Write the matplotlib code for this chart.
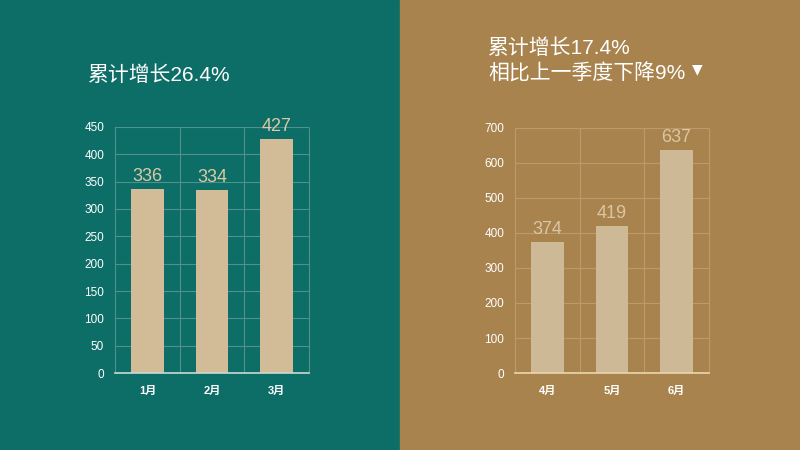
import matplotlib.pyplot as plt
import matplotlib.patches as patches

plt.rcParams['font.family'] = ['Liberation Sans', 'Noto Sans CJK SC', 'DejaVu Sans']

months_q1 = ["1月", "2月", "3月"]
values_q1 = [336, 334, 427]
months_q2 = ["4月", "5月", "6月"]
values_q2 = [374, 419, 637]
ticks_q1 = [0, 50, 100, 150, 200, 250, 300, 350, 400, 450]
ticks_q2 = [0, 100, 200, 300, 400, 500, 600, 700]

teal = "#0d6d67"
brown = "#a8834e"

fig = plt.figure(figsize=(8, 4.5), dpi=100)
fig.patches.append(patches.Rectangle((0, 0), 0.5, 1, transform=fig.transFigure,
                                     color=teal, zorder=-10))
fig.patches.append(patches.Rectangle((0.5, 0), 0.5, 1, transform=fig.transFigure,
                                     color=brown, zorder=-10))


def draw_panel(rect, months, values, ticks, bar_col, lab_col, grid_col, base_col):
    ax = fig.add_axes(rect)
    ax.set_facecolor("none")
    n = len(values)
    x = range(n)
    bars = ax.bar(x, values, width=0.5, color=bar_col, zorder=3)
    for b, v in zip(bars, values):
        ax.annotate(str(v), (b.get_x() + b.get_width() / 2, v), xytext=(0, 3),
                    textcoords="offset points", ha="center", va="bottom",
                    fontsize=13, color=lab_col)
    ax.set_xlim(-0.5, n - 0.5)
    ax.set_ylim(0, ticks[-1])
    ax.set_yticks(ticks)
    ax.set_xticks(list(x))
    ax.set_xticklabels(months, fontsize=8, color="white", fontweight="bold")
    ax.tick_params(axis="y", length=0, pad=8, labelsize=8.5, labelcolor="white")
    ax.tick_params(axis="x", length=0, pad=9)
    ax.grid(axis="y", color=grid_col, lw=0.8, zorder=0)
    ax.vlines([i - 0.5 for i in range(n + 1)], 0, ticks[-1], color=grid_col,
              lw=0.8, zorder=0, clip_on=False)
    for s in ["top", "right", "left"]:
        ax.spines[s].set_visible(False)
    ax.spines["bottom"].set_color(base_col)
    ax.spines["bottom"].set_linewidth(1.2)
    ax.spines["bottom"].set_zorder(4)
    return ax


draw_panel([0.144, 0.171, 0.242, 0.547], months_q1, values_q1, ticks_q1,
           "#d2bc98", "#dcc9a5", "#4f928b", "#c9d9d2")
draw_panel([0.644, 0.171, 0.242, 0.545], months_q2, values_q2, ticks_q2,
           "#cdb995", "#dac6a3", "#bc9b68", "#ecd7aa")

fig.text(0.11, 0.833, "累计增长26.4%", fontsize=15, color="white", va="center")
fig.text(0.61, 0.893, "累计增长17.4%", fontsize=15, color="white", va="center")
fig.text(0.61, 0.836, "相比上一季度下降9%", fontsize=15, color="white", va="center")
fig.text(0.865, 0.845, "▼", fontsize=10, color="white", va="center",
         family=["DejaVu Sans"])

fig.savefig("out.png", dpi=100)
